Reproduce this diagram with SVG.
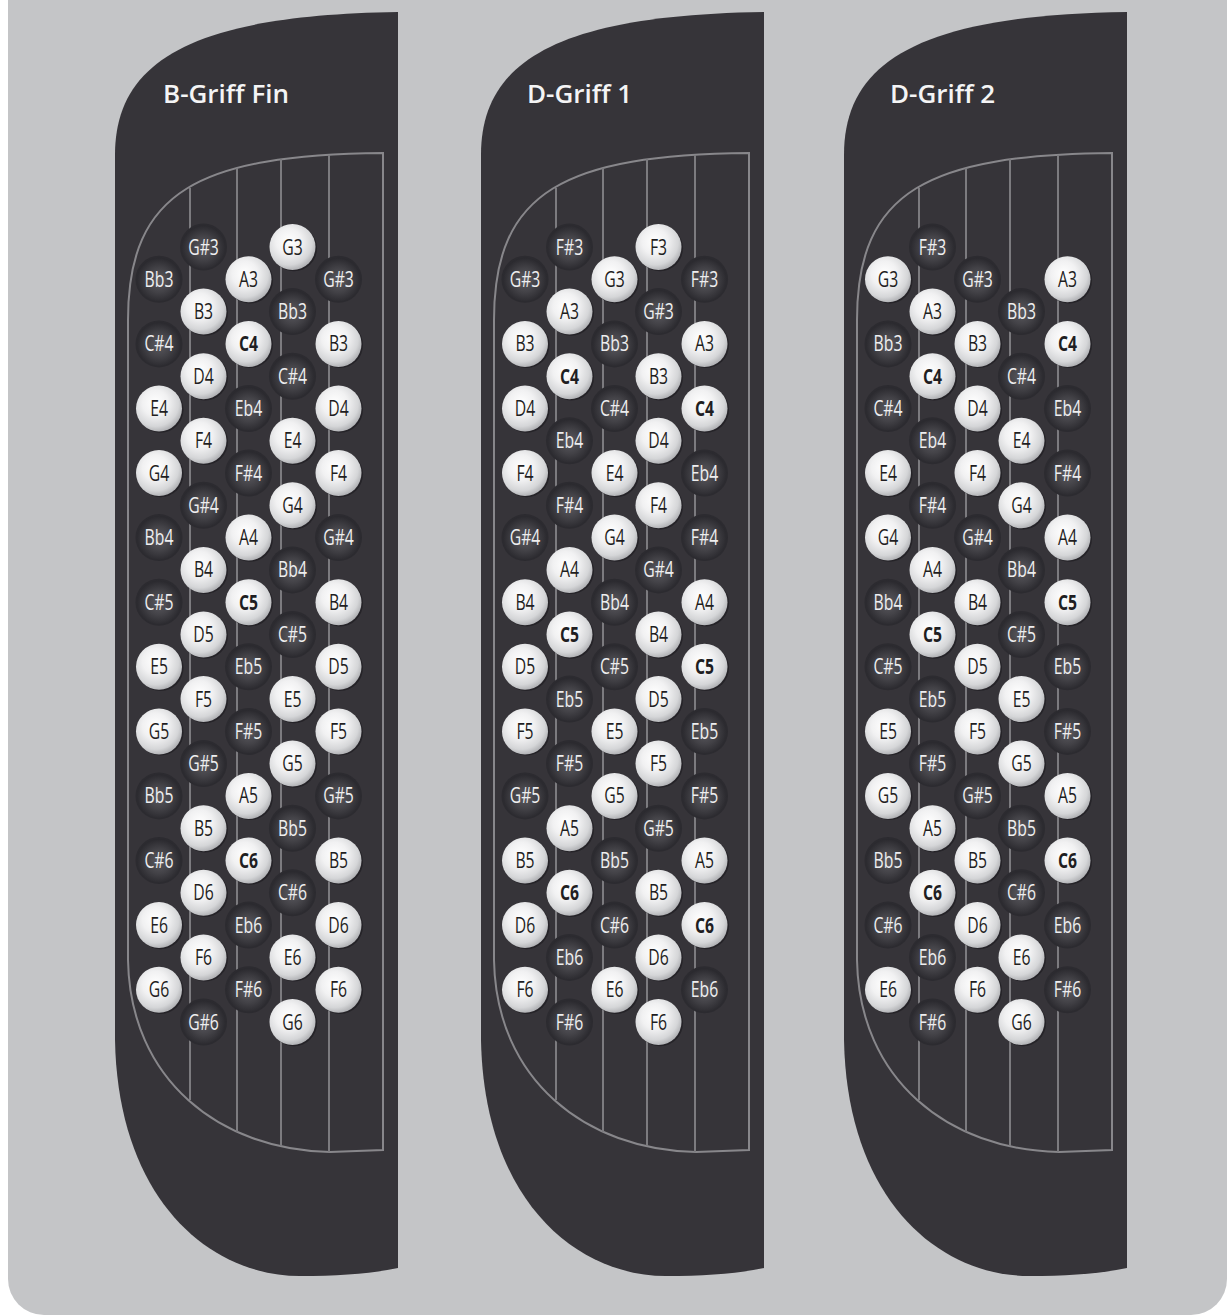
<svg xmlns="http://www.w3.org/2000/svg" xmlns:xlink="http://www.w3.org/1999/xlink" width="1227" height="1315" viewBox="0 0 1227 1315">
<style>
.bg{fill:#c4c5c7}
.body{fill:#363439}
.frame{fill:none;stroke:#88878b;stroke-width:2}
.rail{stroke:#7c7b7f;stroke-width:2}
.title{font-family:"Open Sans","Liberation Sans",sans-serif;font-size:26px;font-weight:600;fill:#f4f4f5}
.t{font-family:"Open Sans","Liberation Sans",sans-serif;font-size:21px;text-anchor:middle}
.k{fill:#1f1e22}
.w{fill:#eeeeef}
.b{font-weight:700}
</style>
<defs>
<radialGradient id="gL" cx="0.42" cy="0.38" r="0.62">
<stop offset="0" stop-color="#ffffff"/>
<stop offset="0.45" stop-color="#f1f1f2"/>
<stop offset="0.82" stop-color="#d5d6d8"/>
<stop offset="1" stop-color="#b4b5b8"/>
</radialGradient>
<radialGradient id="gD" cx="0.5" cy="0.52" r="0.5">
<stop offset="0" stop-color="#5b5a60"/>
<stop offset="0.55" stop-color="#434247"/>
<stop offset="1" stop-color="#2b2a2f"/>
</radialGradient>
<g id="L"><circle cx="1.5" cy="1.2" r="23" fill="#1e1d21" opacity="0.7"/><circle r="23" fill="url(#gL)"/></g>
<g id="D"><circle r="23.5" fill="#2c2b30"/><circle r="22" fill="url(#gD)"/></g>
<path id="shape" d="M398,12 L398,1268 Q360,1276 300,1276 C210,1276 118,1200 115,1040 L115,155 C115,62 190,15 398,12 Z"/>
<g id="grid">
<path class="frame" d="M383,153 L383,1150 L330,1152 C220,1150 130,1080 128,960 L128,320 C128,190 200,155 383,153 Z"/>
<line class="rail" x1="190" y1="188" x2="190" y2="1100"/>
<line class="rail" x1="237" y1="168" x2="237" y2="1132"/>
<line class="rail" x1="281" y1="159" x2="281" y2="1146"/>
<line class="rail" x1="329" y1="155" x2="329" y2="1152"/>
</g>
</defs>
<rect width="1227" height="1315" fill="#ffffff"/>
<rect class="bg" x="8" y="-60" width="1219" height="1375" rx="36"/>

<g id="panel1">
<use href="#shape" class="body"/>
<use href="#grid"/>
<text class="title" x="163" y="103">B-Griff Fin</text>
<g id="p1-r00-c2" transform="translate(203.5,247)"><use href="#D"/><text class="t w" transform="scale(.75,1)" y="7.5">G#3</text></g>
<g id="p1-r00-c4" transform="translate(292.5,247)"><use href="#L"/><text class="t k" transform="scale(.75,1)" y="7.5">G3</text></g>
<g id="p1-r01-c1" transform="translate(159,279.3)"><use href="#D"/><text class="t w" transform="scale(.75,1)" y="7.5">Bb3</text></g>
<g id="p1-r01-c3" transform="translate(248.5,279.3)"><use href="#L"/><text class="t k" transform="scale(.75,1)" y="7.5">A3</text></g>
<g id="p1-r01-c5" transform="translate(338.5,279.3)"><use href="#D"/><text class="t w" transform="scale(.75,1)" y="7.5">G#3</text></g>
<g id="p1-r02-c2" transform="translate(203.5,311.6)"><use href="#L"/><text class="t k" transform="scale(.75,1)" y="7.5">B3</text></g>
<g id="p1-r02-c4" transform="translate(292.5,311.6)"><use href="#D"/><text class="t w" transform="scale(.75,1)" y="7.5">Bb3</text></g>
<g id="p1-r03-c1" transform="translate(159,343.9)"><use href="#D"/><text class="t w" transform="scale(.75,1)" y="7.5">C#4</text></g>
<g id="p1-r03-c3" transform="translate(248.5,343.9)"><use href="#L"/><text class="t k b" transform="scale(.75,1)" y="7.5">C4</text></g>
<g id="p1-r03-c5" transform="translate(338.5,343.9)"><use href="#L"/><text class="t k" transform="scale(.75,1)" y="7.5">B3</text></g>
<g id="p1-r04-c2" transform="translate(203.5,376.2)"><use href="#L"/><text class="t k" transform="scale(.75,1)" y="7.5">D4</text></g>
<g id="p1-r04-c4" transform="translate(292.5,376.2)"><use href="#D"/><text class="t w" transform="scale(.75,1)" y="7.5">C#4</text></g>
<g id="p1-r05-c1" transform="translate(159,408.5)"><use href="#L"/><text class="t k" transform="scale(.75,1)" y="7.5">E4</text></g>
<g id="p1-r05-c3" transform="translate(248.5,408.5)"><use href="#D"/><text class="t w" transform="scale(.75,1)" y="7.5">Eb4</text></g>
<g id="p1-r05-c5" transform="translate(338.5,408.5)"><use href="#L"/><text class="t k" transform="scale(.75,1)" y="7.5">D4</text></g>
<g id="p1-r06-c2" transform="translate(203.5,440.7)"><use href="#L"/><text class="t k" transform="scale(.75,1)" y="7.5">F4</text></g>
<g id="p1-r06-c4" transform="translate(292.5,440.7)"><use href="#L"/><text class="t k" transform="scale(.75,1)" y="7.5">E4</text></g>
<g id="p1-r07-c1" transform="translate(159,473)"><use href="#L"/><text class="t k" transform="scale(.75,1)" y="7.5">G4</text></g>
<g id="p1-r07-c3" transform="translate(248.5,473)"><use href="#D"/><text class="t w" transform="scale(.75,1)" y="7.5">F#4</text></g>
<g id="p1-r07-c5" transform="translate(338.5,473)"><use href="#L"/><text class="t k" transform="scale(.75,1)" y="7.5">F4</text></g>
<g id="p1-r08-c2" transform="translate(203.5,505.3)"><use href="#D"/><text class="t w" transform="scale(.75,1)" y="7.5">G#4</text></g>
<g id="p1-r08-c4" transform="translate(292.5,505.3)"><use href="#L"/><text class="t k" transform="scale(.75,1)" y="7.5">G4</text></g>
<g id="p1-r09-c1" transform="translate(159,537.6)"><use href="#D"/><text class="t w" transform="scale(.75,1)" y="7.5">Bb4</text></g>
<g id="p1-r09-c3" transform="translate(248.5,537.6)"><use href="#L"/><text class="t k" transform="scale(.75,1)" y="7.5">A4</text></g>
<g id="p1-r09-c5" transform="translate(338.5,537.6)"><use href="#D"/><text class="t w" transform="scale(.75,1)" y="7.5">G#4</text></g>
<g id="p1-r10-c2" transform="translate(203.5,569.9)"><use href="#L"/><text class="t k" transform="scale(.75,1)" y="7.5">B4</text></g>
<g id="p1-r10-c4" transform="translate(292.5,569.9)"><use href="#D"/><text class="t w" transform="scale(.75,1)" y="7.5">Bb4</text></g>
<g id="p1-r11-c1" transform="translate(159,602.2)"><use href="#D"/><text class="t w" transform="scale(.75,1)" y="7.5">C#5</text></g>
<g id="p1-r11-c3" transform="translate(248.5,602.2)"><use href="#L"/><text class="t k b" transform="scale(.75,1)" y="7.5">C5</text></g>
<g id="p1-r11-c5" transform="translate(338.5,602.2)"><use href="#L"/><text class="t k" transform="scale(.75,1)" y="7.5">B4</text></g>
<g id="p1-r12-c2" transform="translate(203.5,634.5)"><use href="#L"/><text class="t k" transform="scale(.75,1)" y="7.5">D5</text></g>
<g id="p1-r12-c4" transform="translate(292.5,634.5)"><use href="#D"/><text class="t w" transform="scale(.75,1)" y="7.5">C#5</text></g>
<g id="p1-r13-c1" transform="translate(159,666.8)"><use href="#L"/><text class="t k" transform="scale(.75,1)" y="7.5">E5</text></g>
<g id="p1-r13-c3" transform="translate(248.5,666.8)"><use href="#D"/><text class="t w" transform="scale(.75,1)" y="7.5">Eb5</text></g>
<g id="p1-r13-c5" transform="translate(338.5,666.8)"><use href="#L"/><text class="t k" transform="scale(.75,1)" y="7.5">D5</text></g>
<g id="p1-r14-c2" transform="translate(203.5,699.1)"><use href="#L"/><text class="t k" transform="scale(.75,1)" y="7.5">F5</text></g>
<g id="p1-r14-c4" transform="translate(292.5,699.1)"><use href="#L"/><text class="t k" transform="scale(.75,1)" y="7.5">E5</text></g>
<g id="p1-r15-c1" transform="translate(159,731.4)"><use href="#L"/><text class="t k" transform="scale(.75,1)" y="7.5">G5</text></g>
<g id="p1-r15-c3" transform="translate(248.5,731.4)"><use href="#D"/><text class="t w" transform="scale(.75,1)" y="7.5">F#5</text></g>
<g id="p1-r15-c5" transform="translate(338.5,731.4)"><use href="#L"/><text class="t k" transform="scale(.75,1)" y="7.5">F5</text></g>
<g id="p1-r16-c2" transform="translate(203.5,763.6)"><use href="#D"/><text class="t w" transform="scale(.75,1)" y="7.5">G#5</text></g>
<g id="p1-r16-c4" transform="translate(292.5,763.6)"><use href="#L"/><text class="t k" transform="scale(.75,1)" y="7.5">G5</text></g>
<g id="p1-r17-c1" transform="translate(159,795.9)"><use href="#D"/><text class="t w" transform="scale(.75,1)" y="7.5">Bb5</text></g>
<g id="p1-r17-c3" transform="translate(248.5,795.9)"><use href="#L"/><text class="t k" transform="scale(.75,1)" y="7.5">A5</text></g>
<g id="p1-r17-c5" transform="translate(338.5,795.9)"><use href="#D"/><text class="t w" transform="scale(.75,1)" y="7.5">G#5</text></g>
<g id="p1-r18-c2" transform="translate(203.5,828.2)"><use href="#L"/><text class="t k" transform="scale(.75,1)" y="7.5">B5</text></g>
<g id="p1-r18-c4" transform="translate(292.5,828.2)"><use href="#D"/><text class="t w" transform="scale(.75,1)" y="7.5">Bb5</text></g>
<g id="p1-r19-c1" transform="translate(159,860.5)"><use href="#D"/><text class="t w" transform="scale(.75,1)" y="7.5">C#6</text></g>
<g id="p1-r19-c3" transform="translate(248.5,860.5)"><use href="#L"/><text class="t k b" transform="scale(.75,1)" y="7.5">C6</text></g>
<g id="p1-r19-c5" transform="translate(338.5,860.5)"><use href="#L"/><text class="t k" transform="scale(.75,1)" y="7.5">B5</text></g>
<g id="p1-r20-c2" transform="translate(203.5,892.8)"><use href="#L"/><text class="t k" transform="scale(.75,1)" y="7.5">D6</text></g>
<g id="p1-r20-c4" transform="translate(292.5,892.8)"><use href="#D"/><text class="t w" transform="scale(.75,1)" y="7.5">C#6</text></g>
<g id="p1-r21-c1" transform="translate(159,925.1)"><use href="#L"/><text class="t k" transform="scale(.75,1)" y="7.5">E6</text></g>
<g id="p1-r21-c3" transform="translate(248.5,925.1)"><use href="#D"/><text class="t w" transform="scale(.75,1)" y="7.5">Eb6</text></g>
<g id="p1-r21-c5" transform="translate(338.5,925.1)"><use href="#L"/><text class="t k" transform="scale(.75,1)" y="7.5">D6</text></g>
<g id="p1-r22-c2" transform="translate(203.5,957.4)"><use href="#L"/><text class="t k" transform="scale(.75,1)" y="7.5">F6</text></g>
<g id="p1-r22-c4" transform="translate(292.5,957.4)"><use href="#L"/><text class="t k" transform="scale(.75,1)" y="7.5">E6</text></g>
<g id="p1-r23-c1" transform="translate(159,989.7)"><use href="#L"/><text class="t k" transform="scale(.75,1)" y="7.5">G6</text></g>
<g id="p1-r23-c3" transform="translate(248.5,989.7)"><use href="#D"/><text class="t w" transform="scale(.75,1)" y="7.5">F#6</text></g>
<g id="p1-r23-c5" transform="translate(338.5,989.7)"><use href="#L"/><text class="t k" transform="scale(.75,1)" y="7.5">F6</text></g>
<g id="p1-r24-c2" transform="translate(203.5,1022)"><use href="#D"/><text class="t w" transform="scale(.75,1)" y="7.5">G#6</text></g>
<g id="p1-r24-c4" transform="translate(292.5,1022)"><use href="#L"/><text class="t k" transform="scale(.75,1)" y="7.5">G6</text></g>
</g>

<g id="panel2" transform="translate(366,0)">
<use href="#shape" class="body"/>
<use href="#grid"/>
<text class="title" x="161" y="103">D-Griff 1</text>
<g id="p2-r00-c2" transform="translate(203.5,247)"><use href="#D"/><text class="t w" transform="scale(.75,1)" y="7.5">F#3</text></g>
<g id="p2-r00-c4" transform="translate(292.5,247)"><use href="#L"/><text class="t k" transform="scale(.75,1)" y="7.5">F3</text></g>
<g id="p2-r01-c1" transform="translate(159,279.3)"><use href="#D"/><text class="t w" transform="scale(.75,1)" y="7.5">G#3</text></g>
<g id="p2-r01-c3" transform="translate(248.5,279.3)"><use href="#L"/><text class="t k" transform="scale(.75,1)" y="7.5">G3</text></g>
<g id="p2-r01-c5" transform="translate(338.5,279.3)"><use href="#D"/><text class="t w" transform="scale(.75,1)" y="7.5">F#3</text></g>
<g id="p2-r02-c2" transform="translate(203.5,311.6)"><use href="#L"/><text class="t k" transform="scale(.75,1)" y="7.5">A3</text></g>
<g id="p2-r02-c4" transform="translate(292.5,311.6)"><use href="#D"/><text class="t w" transform="scale(.75,1)" y="7.5">G#3</text></g>
<g id="p2-r03-c1" transform="translate(159,343.9)"><use href="#L"/><text class="t k" transform="scale(.75,1)" y="7.5">B3</text></g>
<g id="p2-r03-c3" transform="translate(248.5,343.9)"><use href="#D"/><text class="t w" transform="scale(.75,1)" y="7.5">Bb3</text></g>
<g id="p2-r03-c5" transform="translate(338.5,343.9)"><use href="#L"/><text class="t k" transform="scale(.75,1)" y="7.5">A3</text></g>
<g id="p2-r04-c2" transform="translate(203.5,376.2)"><use href="#L"/><text class="t k b" transform="scale(.75,1)" y="7.5">C4</text></g>
<g id="p2-r04-c4" transform="translate(292.5,376.2)"><use href="#L"/><text class="t k" transform="scale(.75,1)" y="7.5">B3</text></g>
<g id="p2-r05-c1" transform="translate(159,408.5)"><use href="#L"/><text class="t k" transform="scale(.75,1)" y="7.5">D4</text></g>
<g id="p2-r05-c3" transform="translate(248.5,408.5)"><use href="#D"/><text class="t w" transform="scale(.75,1)" y="7.5">C#4</text></g>
<g id="p2-r05-c5" transform="translate(338.5,408.5)"><use href="#L"/><text class="t k b" transform="scale(.75,1)" y="7.5">C4</text></g>
<g id="p2-r06-c2" transform="translate(203.5,440.7)"><use href="#D"/><text class="t w" transform="scale(.75,1)" y="7.5">Eb4</text></g>
<g id="p2-r06-c4" transform="translate(292.5,440.7)"><use href="#L"/><text class="t k" transform="scale(.75,1)" y="7.5">D4</text></g>
<g id="p2-r07-c1" transform="translate(159,473)"><use href="#L"/><text class="t k" transform="scale(.75,1)" y="7.5">F4</text></g>
<g id="p2-r07-c3" transform="translate(248.5,473)"><use href="#L"/><text class="t k" transform="scale(.75,1)" y="7.5">E4</text></g>
<g id="p2-r07-c5" transform="translate(338.5,473)"><use href="#D"/><text class="t w" transform="scale(.75,1)" y="7.5">Eb4</text></g>
<g id="p2-r08-c2" transform="translate(203.5,505.3)"><use href="#D"/><text class="t w" transform="scale(.75,1)" y="7.5">F#4</text></g>
<g id="p2-r08-c4" transform="translate(292.5,505.3)"><use href="#L"/><text class="t k" transform="scale(.75,1)" y="7.5">F4</text></g>
<g id="p2-r09-c1" transform="translate(159,537.6)"><use href="#D"/><text class="t w" transform="scale(.75,1)" y="7.5">G#4</text></g>
<g id="p2-r09-c3" transform="translate(248.5,537.6)"><use href="#L"/><text class="t k" transform="scale(.75,1)" y="7.5">G4</text></g>
<g id="p2-r09-c5" transform="translate(338.5,537.6)"><use href="#D"/><text class="t w" transform="scale(.75,1)" y="7.5">F#4</text></g>
<g id="p2-r10-c2" transform="translate(203.5,569.9)"><use href="#L"/><text class="t k" transform="scale(.75,1)" y="7.5">A4</text></g>
<g id="p2-r10-c4" transform="translate(292.5,569.9)"><use href="#D"/><text class="t w" transform="scale(.75,1)" y="7.5">G#4</text></g>
<g id="p2-r11-c1" transform="translate(159,602.2)"><use href="#L"/><text class="t k" transform="scale(.75,1)" y="7.5">B4</text></g>
<g id="p2-r11-c3" transform="translate(248.5,602.2)"><use href="#D"/><text class="t w" transform="scale(.75,1)" y="7.5">Bb4</text></g>
<g id="p2-r11-c5" transform="translate(338.5,602.2)"><use href="#L"/><text class="t k" transform="scale(.75,1)" y="7.5">A4</text></g>
<g id="p2-r12-c2" transform="translate(203.5,634.5)"><use href="#L"/><text class="t k b" transform="scale(.75,1)" y="7.5">C5</text></g>
<g id="p2-r12-c4" transform="translate(292.5,634.5)"><use href="#L"/><text class="t k" transform="scale(.75,1)" y="7.5">B4</text></g>
<g id="p2-r13-c1" transform="translate(159,666.8)"><use href="#L"/><text class="t k" transform="scale(.75,1)" y="7.5">D5</text></g>
<g id="p2-r13-c3" transform="translate(248.5,666.8)"><use href="#D"/><text class="t w" transform="scale(.75,1)" y="7.5">C#5</text></g>
<g id="p2-r13-c5" transform="translate(338.5,666.8)"><use href="#L"/><text class="t k b" transform="scale(.75,1)" y="7.5">C5</text></g>
<g id="p2-r14-c2" transform="translate(203.5,699.1)"><use href="#D"/><text class="t w" transform="scale(.75,1)" y="7.5">Eb5</text></g>
<g id="p2-r14-c4" transform="translate(292.5,699.1)"><use href="#L"/><text class="t k" transform="scale(.75,1)" y="7.5">D5</text></g>
<g id="p2-r15-c1" transform="translate(159,731.4)"><use href="#L"/><text class="t k" transform="scale(.75,1)" y="7.5">F5</text></g>
<g id="p2-r15-c3" transform="translate(248.5,731.4)"><use href="#L"/><text class="t k" transform="scale(.75,1)" y="7.5">E5</text></g>
<g id="p2-r15-c5" transform="translate(338.5,731.4)"><use href="#D"/><text class="t w" transform="scale(.75,1)" y="7.5">Eb5</text></g>
<g id="p2-r16-c2" transform="translate(203.5,763.6)"><use href="#D"/><text class="t w" transform="scale(.75,1)" y="7.5">F#5</text></g>
<g id="p2-r16-c4" transform="translate(292.5,763.6)"><use href="#L"/><text class="t k" transform="scale(.75,1)" y="7.5">F5</text></g>
<g id="p2-r17-c1" transform="translate(159,795.9)"><use href="#D"/><text class="t w" transform="scale(.75,1)" y="7.5">G#5</text></g>
<g id="p2-r17-c3" transform="translate(248.5,795.9)"><use href="#L"/><text class="t k" transform="scale(.75,1)" y="7.5">G5</text></g>
<g id="p2-r17-c5" transform="translate(338.5,795.9)"><use href="#D"/><text class="t w" transform="scale(.75,1)" y="7.5">F#5</text></g>
<g id="p2-r18-c2" transform="translate(203.5,828.2)"><use href="#L"/><text class="t k" transform="scale(.75,1)" y="7.5">A5</text></g>
<g id="p2-r18-c4" transform="translate(292.5,828.2)"><use href="#D"/><text class="t w" transform="scale(.75,1)" y="7.5">G#5</text></g>
<g id="p2-r19-c1" transform="translate(159,860.5)"><use href="#L"/><text class="t k" transform="scale(.75,1)" y="7.5">B5</text></g>
<g id="p2-r19-c3" transform="translate(248.5,860.5)"><use href="#D"/><text class="t w" transform="scale(.75,1)" y="7.5">Bb5</text></g>
<g id="p2-r19-c5" transform="translate(338.5,860.5)"><use href="#L"/><text class="t k" transform="scale(.75,1)" y="7.5">A5</text></g>
<g id="p2-r20-c2" transform="translate(203.5,892.8)"><use href="#L"/><text class="t k b" transform="scale(.75,1)" y="7.5">C6</text></g>
<g id="p2-r20-c4" transform="translate(292.5,892.8)"><use href="#L"/><text class="t k" transform="scale(.75,1)" y="7.5">B5</text></g>
<g id="p2-r21-c1" transform="translate(159,925.1)"><use href="#L"/><text class="t k" transform="scale(.75,1)" y="7.5">D6</text></g>
<g id="p2-r21-c3" transform="translate(248.5,925.1)"><use href="#D"/><text class="t w" transform="scale(.75,1)" y="7.5">C#6</text></g>
<g id="p2-r21-c5" transform="translate(338.5,925.1)"><use href="#L"/><text class="t k b" transform="scale(.75,1)" y="7.5">C6</text></g>
<g id="p2-r22-c2" transform="translate(203.5,957.4)"><use href="#D"/><text class="t w" transform="scale(.75,1)" y="7.5">Eb6</text></g>
<g id="p2-r22-c4" transform="translate(292.5,957.4)"><use href="#L"/><text class="t k" transform="scale(.75,1)" y="7.5">D6</text></g>
<g id="p2-r23-c1" transform="translate(159,989.7)"><use href="#L"/><text class="t k" transform="scale(.75,1)" y="7.5">F6</text></g>
<g id="p2-r23-c3" transform="translate(248.5,989.7)"><use href="#L"/><text class="t k" transform="scale(.75,1)" y="7.5">E6</text></g>
<g id="p2-r23-c5" transform="translate(338.5,989.7)"><use href="#D"/><text class="t w" transform="scale(.75,1)" y="7.5">Eb6</text></g>
<g id="p2-r24-c2" transform="translate(203.5,1022)"><use href="#D"/><text class="t w" transform="scale(.75,1)" y="7.5">F#6</text></g>
<g id="p2-r24-c4" transform="translate(292.5,1022)"><use href="#L"/><text class="t k" transform="scale(.75,1)" y="7.5">F6</text></g>
</g>

<g id="panel3" transform="translate(729,0)">
<use href="#shape" class="body"/>
<use href="#grid"/>
<text class="title" x="161" y="103">D-Griff 2</text>
<g id="p3-r00-c2" transform="translate(203.5,247)"><use href="#D"/><text class="t w" transform="scale(.75,1)" y="7.5">F#3</text></g>
<g id="p3-r01-c1" transform="translate(159,279.3)"><use href="#L"/><text class="t k" transform="scale(.75,1)" y="7.5">G3</text></g>
<g id="p3-r01-c3" transform="translate(248.5,279.3)"><use href="#D"/><text class="t w" transform="scale(.75,1)" y="7.5">G#3</text></g>
<g id="p3-r01-c5" transform="translate(338.5,279.3)"><use href="#L"/><text class="t k" transform="scale(.75,1)" y="7.5">A3</text></g>
<g id="p3-r02-c2" transform="translate(203.5,311.6)"><use href="#L"/><text class="t k" transform="scale(.75,1)" y="7.5">A3</text></g>
<g id="p3-r02-c4" transform="translate(292.5,311.6)"><use href="#D"/><text class="t w" transform="scale(.75,1)" y="7.5">Bb3</text></g>
<g id="p3-r03-c1" transform="translate(159,343.9)"><use href="#D"/><text class="t w" transform="scale(.75,1)" y="7.5">Bb3</text></g>
<g id="p3-r03-c3" transform="translate(248.5,343.9)"><use href="#L"/><text class="t k" transform="scale(.75,1)" y="7.5">B3</text></g>
<g id="p3-r03-c5" transform="translate(338.5,343.9)"><use href="#L"/><text class="t k b" transform="scale(.75,1)" y="7.5">C4</text></g>
<g id="p3-r04-c2" transform="translate(203.5,376.2)"><use href="#L"/><text class="t k b" transform="scale(.75,1)" y="7.5">C4</text></g>
<g id="p3-r04-c4" transform="translate(292.5,376.2)"><use href="#D"/><text class="t w" transform="scale(.75,1)" y="7.5">C#4</text></g>
<g id="p3-r05-c1" transform="translate(159,408.5)"><use href="#D"/><text class="t w" transform="scale(.75,1)" y="7.5">C#4</text></g>
<g id="p3-r05-c3" transform="translate(248.5,408.5)"><use href="#L"/><text class="t k" transform="scale(.75,1)" y="7.5">D4</text></g>
<g id="p3-r05-c5" transform="translate(338.5,408.5)"><use href="#D"/><text class="t w" transform="scale(.75,1)" y="7.5">Eb4</text></g>
<g id="p3-r06-c2" transform="translate(203.5,440.7)"><use href="#D"/><text class="t w" transform="scale(.75,1)" y="7.5">Eb4</text></g>
<g id="p3-r06-c4" transform="translate(292.5,440.7)"><use href="#L"/><text class="t k" transform="scale(.75,1)" y="7.5">E4</text></g>
<g id="p3-r07-c1" transform="translate(159,473)"><use href="#L"/><text class="t k" transform="scale(.75,1)" y="7.5">E4</text></g>
<g id="p3-r07-c3" transform="translate(248.5,473)"><use href="#L"/><text class="t k" transform="scale(.75,1)" y="7.5">F4</text></g>
<g id="p3-r07-c5" transform="translate(338.5,473)"><use href="#D"/><text class="t w" transform="scale(.75,1)" y="7.5">F#4</text></g>
<g id="p3-r08-c2" transform="translate(203.5,505.3)"><use href="#D"/><text class="t w" transform="scale(.75,1)" y="7.5">F#4</text></g>
<g id="p3-r08-c4" transform="translate(292.5,505.3)"><use href="#L"/><text class="t k" transform="scale(.75,1)" y="7.5">G4</text></g>
<g id="p3-r09-c1" transform="translate(159,537.6)"><use href="#L"/><text class="t k" transform="scale(.75,1)" y="7.5">G4</text></g>
<g id="p3-r09-c3" transform="translate(248.5,537.6)"><use href="#D"/><text class="t w" transform="scale(.75,1)" y="7.5">G#4</text></g>
<g id="p3-r09-c5" transform="translate(338.5,537.6)"><use href="#L"/><text class="t k" transform="scale(.75,1)" y="7.5">A4</text></g>
<g id="p3-r10-c2" transform="translate(203.5,569.9)"><use href="#L"/><text class="t k" transform="scale(.75,1)" y="7.5">A4</text></g>
<g id="p3-r10-c4" transform="translate(292.5,569.9)"><use href="#D"/><text class="t w" transform="scale(.75,1)" y="7.5">Bb4</text></g>
<g id="p3-r11-c1" transform="translate(159,602.2)"><use href="#D"/><text class="t w" transform="scale(.75,1)" y="7.5">Bb4</text></g>
<g id="p3-r11-c3" transform="translate(248.5,602.2)"><use href="#L"/><text class="t k" transform="scale(.75,1)" y="7.5">B4</text></g>
<g id="p3-r11-c5" transform="translate(338.5,602.2)"><use href="#L"/><text class="t k b" transform="scale(.75,1)" y="7.5">C5</text></g>
<g id="p3-r12-c2" transform="translate(203.5,634.5)"><use href="#L"/><text class="t k b" transform="scale(.75,1)" y="7.5">C5</text></g>
<g id="p3-r12-c4" transform="translate(292.5,634.5)"><use href="#D"/><text class="t w" transform="scale(.75,1)" y="7.5">C#5</text></g>
<g id="p3-r13-c1" transform="translate(159,666.8)"><use href="#D"/><text class="t w" transform="scale(.75,1)" y="7.5">C#5</text></g>
<g id="p3-r13-c3" transform="translate(248.5,666.8)"><use href="#L"/><text class="t k" transform="scale(.75,1)" y="7.5">D5</text></g>
<g id="p3-r13-c5" transform="translate(338.5,666.8)"><use href="#D"/><text class="t w" transform="scale(.75,1)" y="7.5">Eb5</text></g>
<g id="p3-r14-c2" transform="translate(203.5,699.1)"><use href="#D"/><text class="t w" transform="scale(.75,1)" y="7.5">Eb5</text></g>
<g id="p3-r14-c4" transform="translate(292.5,699.1)"><use href="#L"/><text class="t k" transform="scale(.75,1)" y="7.5">E5</text></g>
<g id="p3-r15-c1" transform="translate(159,731.4)"><use href="#L"/><text class="t k" transform="scale(.75,1)" y="7.5">E5</text></g>
<g id="p3-r15-c3" transform="translate(248.5,731.4)"><use href="#L"/><text class="t k" transform="scale(.75,1)" y="7.5">F5</text></g>
<g id="p3-r15-c5" transform="translate(338.5,731.4)"><use href="#D"/><text class="t w" transform="scale(.75,1)" y="7.5">F#5</text></g>
<g id="p3-r16-c2" transform="translate(203.5,763.6)"><use href="#D"/><text class="t w" transform="scale(.75,1)" y="7.5">F#5</text></g>
<g id="p3-r16-c4" transform="translate(292.5,763.6)"><use href="#L"/><text class="t k" transform="scale(.75,1)" y="7.5">G5</text></g>
<g id="p3-r17-c1" transform="translate(159,795.9)"><use href="#L"/><text class="t k" transform="scale(.75,1)" y="7.5">G5</text></g>
<g id="p3-r17-c3" transform="translate(248.5,795.9)"><use href="#D"/><text class="t w" transform="scale(.75,1)" y="7.5">G#5</text></g>
<g id="p3-r17-c5" transform="translate(338.5,795.9)"><use href="#L"/><text class="t k" transform="scale(.75,1)" y="7.5">A5</text></g>
<g id="p3-r18-c2" transform="translate(203.5,828.2)"><use href="#L"/><text class="t k" transform="scale(.75,1)" y="7.5">A5</text></g>
<g id="p3-r18-c4" transform="translate(292.5,828.2)"><use href="#D"/><text class="t w" transform="scale(.75,1)" y="7.5">Bb5</text></g>
<g id="p3-r19-c1" transform="translate(159,860.5)"><use href="#D"/><text class="t w" transform="scale(.75,1)" y="7.5">Bb5</text></g>
<g id="p3-r19-c3" transform="translate(248.5,860.5)"><use href="#L"/><text class="t k" transform="scale(.75,1)" y="7.5">B5</text></g>
<g id="p3-r19-c5" transform="translate(338.5,860.5)"><use href="#L"/><text class="t k b" transform="scale(.75,1)" y="7.5">C6</text></g>
<g id="p3-r20-c2" transform="translate(203.5,892.8)"><use href="#L"/><text class="t k b" transform="scale(.75,1)" y="7.5">C6</text></g>
<g id="p3-r20-c4" transform="translate(292.5,892.8)"><use href="#D"/><text class="t w" transform="scale(.75,1)" y="7.5">C#6</text></g>
<g id="p3-r21-c1" transform="translate(159,925.1)"><use href="#D"/><text class="t w" transform="scale(.75,1)" y="7.5">C#6</text></g>
<g id="p3-r21-c3" transform="translate(248.5,925.1)"><use href="#L"/><text class="t k" transform="scale(.75,1)" y="7.5">D6</text></g>
<g id="p3-r21-c5" transform="translate(338.5,925.1)"><use href="#D"/><text class="t w" transform="scale(.75,1)" y="7.5">Eb6</text></g>
<g id="p3-r22-c2" transform="translate(203.5,957.4)"><use href="#D"/><text class="t w" transform="scale(.75,1)" y="7.5">Eb6</text></g>
<g id="p3-r22-c4" transform="translate(292.5,957.4)"><use href="#L"/><text class="t k" transform="scale(.75,1)" y="7.5">E6</text></g>
<g id="p3-r23-c1" transform="translate(159,989.7)"><use href="#L"/><text class="t k" transform="scale(.75,1)" y="7.5">E6</text></g>
<g id="p3-r23-c3" transform="translate(248.5,989.7)"><use href="#L"/><text class="t k" transform="scale(.75,1)" y="7.5">F6</text></g>
<g id="p3-r23-c5" transform="translate(338.5,989.7)"><use href="#D"/><text class="t w" transform="scale(.75,1)" y="7.5">F#6</text></g>
<g id="p3-r24-c2" transform="translate(203.5,1022)"><use href="#D"/><text class="t w" transform="scale(.75,1)" y="7.5">F#6</text></g>
<g id="p3-r24-c4" transform="translate(292.5,1022)"><use href="#L"/><text class="t k" transform="scale(.75,1)" y="7.5">G6</text></g>
</g>

<g id="connectors"/>
</svg>
